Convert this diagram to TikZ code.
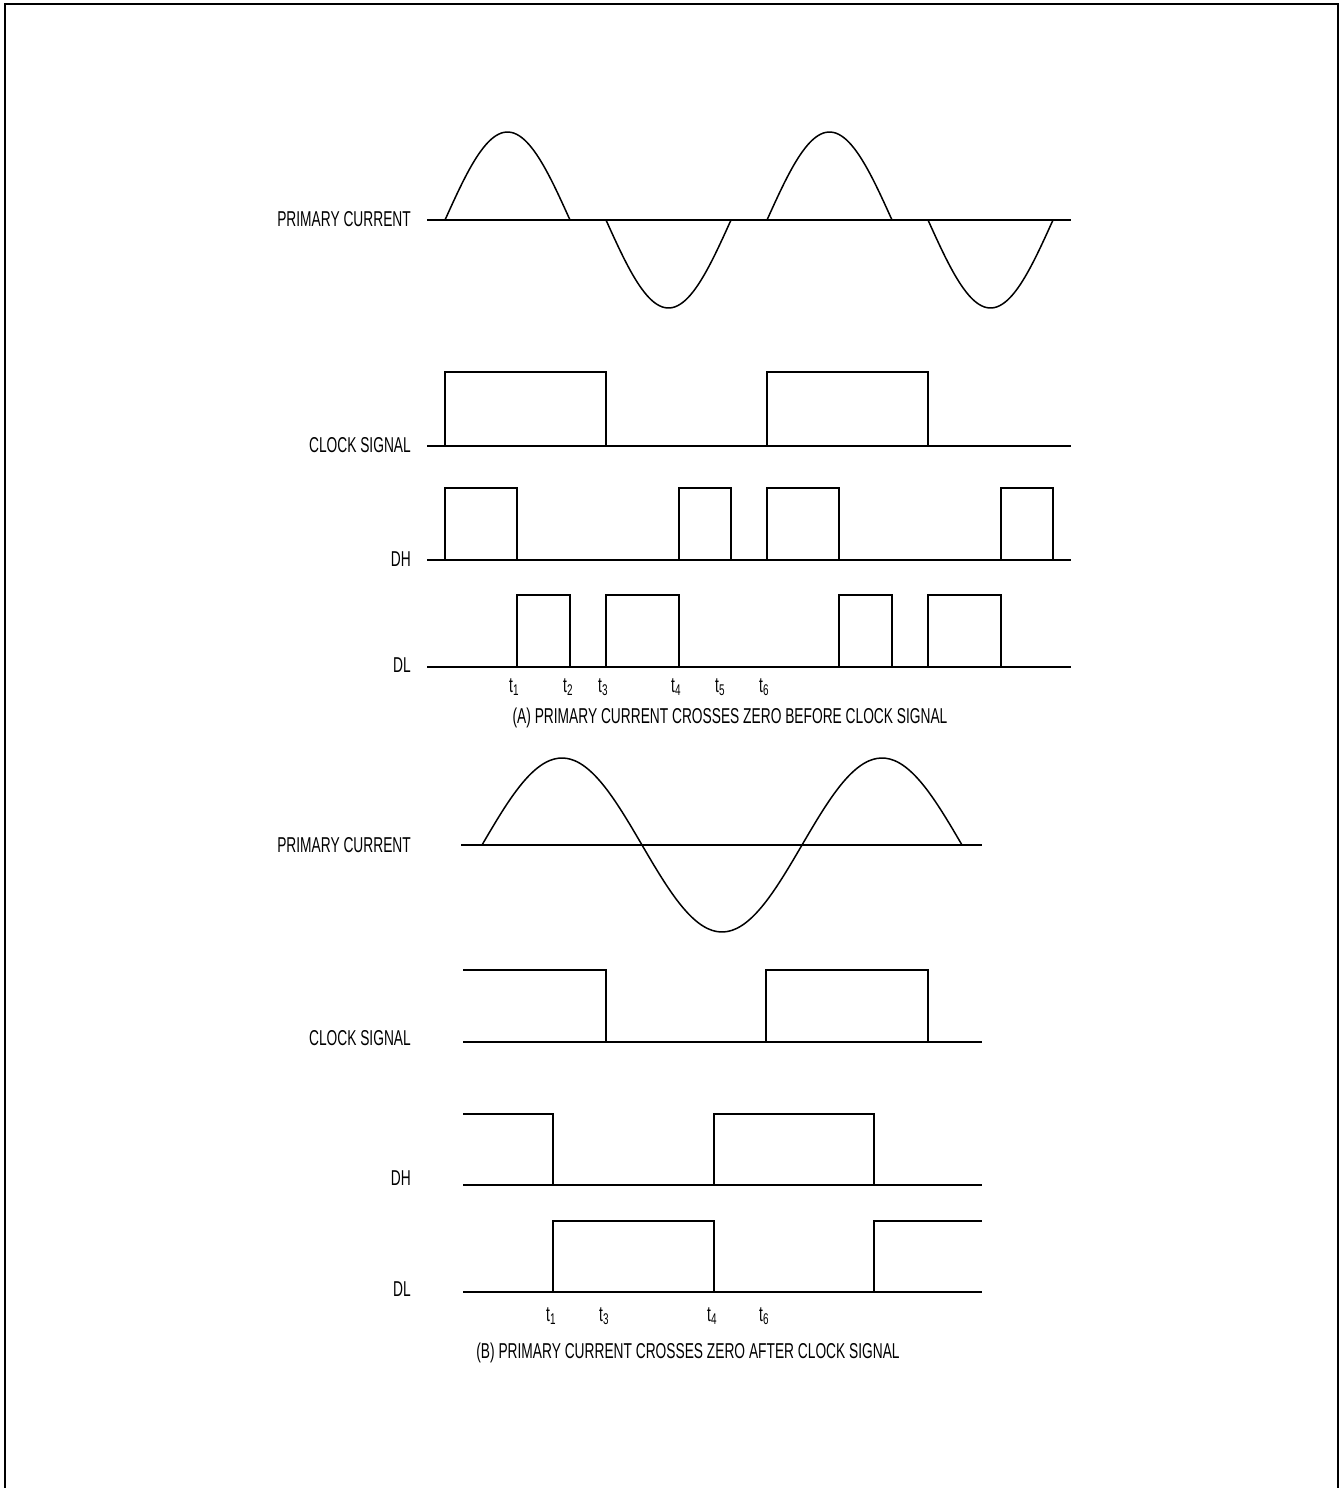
\documentclass[tikz,border=0pt]{standalone}
\usepackage{fontspec}
\setmainfont{Liberation Sans}[FakeStretch=0.64]
\newcommand{\tsub}[1]{t\raisebox{-3.5pt}{\fontsize{15.5}{16}\selectfont #1}}
\begin{document}
\begin{tikzpicture}[x=1pt,y=-1pt,
  wave/.style={line width=1.5pt, line join=miter},
  axisline/.style={line width=2pt},
  lab/.style={font=\fontsize{21.5}{24}\selectfont, inner sep=0pt},
  tlab/.style={font=\fontsize{21.5}{24}\selectfont, inner sep=0pt, anchor=base west}]
\useasboundingbox (0,0) rectangle (1340,1488);
% frame (open at the bottom)
\draw[line width=2.5pt] (5,1490) -- (5,4) -- (1338,4) -- (1338,1490);

% ================= Panel A =================
% labels
\node[lab, anchor=east] (pcA) at (411,219) {PRIMARY CURRENT};
\node[lab, anchor=east] (clkA) at (411,445) {CLOCK SIGNAL};
\node[lab, anchor=east] (dhA) at (411,559) {DH};
\node[lab, anchor=east] (dlA) at (411,665) {DL};
% axes
\draw[axisline] (427,220) -- (1071,220);
\draw[axisline] (427,446) -- (1071,446);
\draw[axisline] (427,560) -- (1071,560);
\draw[axisline] (427,667) -- (1071,667);
% primary current humps
\foreach \s/\sg in {445/1, 606/-1, 767/1, 928/-1}{
  \draw[wave] plot[domain=0:180, samples=50, smooth] ({\s + \x/180*125}, {220 - \sg*88*sin(\x)});
}
% clock
\draw[wave] (445,446) -- (445,372) -- (606,372) -- (606,446);
\draw[wave] (767,446) -- (767,372) -- (928,372) -- (928,446);
% DH
\foreach \a/\b in {445/517, 679/731, 767/839, 1001/1053}{
  \draw[wave] (\a,560) -- (\a,488) -- (\b,488) -- (\b,560);
}
% DL
\foreach \a/\b in {517/570, 606/679, 839/892, 928/1001}{
  \draw[wave] (\a,667) -- (\a,595) -- (\b,595) -- (\b,667);
}
% time labels
\node[tlab] (tA1) at (509,692) {\tsub{1}};
\node[tlab] (tA2) at (563,692) {\tsub{2}};
\node[tlab] (tA3) at (598,692) {\tsub{3}};
\node[tlab] (tA4) at (671,692) {\tsub{4}};
\node[tlab] (tA5) at (715,692) {\tsub{5}};
\node[tlab] (tA6) at (759,692) {\tsub{6}};
\node[lab] (capA) at (730,718) {(A) PRIMARY CURRENT CROSSES ZERO BEFORE CLOCK SIGNAL};

% ================= Panel B =================
\node[lab, anchor=east] (pcB) at (411,845) {PRIMARY CURRENT};
\node[lab, anchor=east] (clkB) at (411,1038) {CLOCK SIGNAL};
\node[lab, anchor=east] (dhB) at (411,1178) {DH};
\node[lab, anchor=east] (dlB) at (411,1289) {DL};
% axes
\draw[axisline] (461,845) -- (982,845);
\draw[axisline] (463,1042) -- (982,1042);
\draw[axisline] (463,1185) -- (982,1185);
\draw[axisline] (463,1292) -- (982,1292);
% primary current sine
\draw[wave] plot[domain=0:540, samples=120, smooth] ({482 + \x/180*160}, {845 - 87*sin(\x)});
% clock
\draw[wave] (463,970) -- (606,970) -- (606,1042);
\draw[wave] (766,1042) -- (766,970) -- (928,970) -- (928,1042);
% DH
\draw[wave] (463,1114) -- (553,1114) -- (553,1185);
\draw[wave] (714,1185) -- (714,1114) -- (874,1114) -- (874,1185);
% DL
\draw[wave] (553,1292) -- (553,1221) -- (714,1221) -- (714,1292);
\draw[wave] (874,1292) -- (874,1221) -- (982,1221);
% time labels
\node[tlab] (tB1) at (546,1321) {\tsub{1}};
\node[tlab] (tB3) at (599,1321) {\tsub{3}};
\node[tlab] (tB4) at (707,1321) {\tsub{4}};
\node[tlab] (tB6) at (759,1321) {\tsub{6}};
\node[lab] (capB) at (688,1353) {(B) PRIMARY CURRENT CROSSES ZERO AFTER CLOCK SIGNAL};
\end{tikzpicture}
\end{document}
